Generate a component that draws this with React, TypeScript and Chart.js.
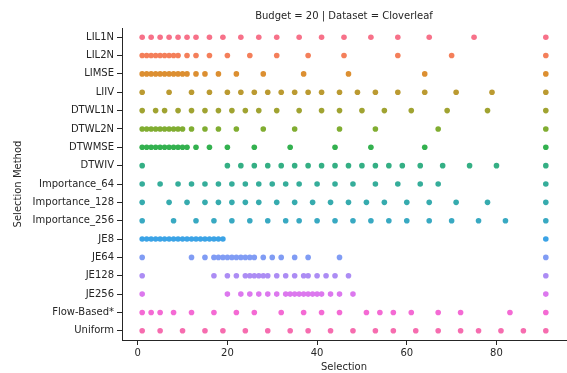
import React, { useEffect, useRef } from "react";
import { Chart, registerables } from "chart.js";

Chart.register(...registerables);

const panelTitle = "Budget = 20 | Dataset = Cloverleaf";
const xTicks = [0, 20, 40, 60, 80];

const methods = [
  "LIL1N", "LIL2N", "LIMSE", "LIIV", "DTWL1N", "DTWL2N", "DTWMSE", "DTWIV",
  "Importance_64", "Importance_128", "Importance_256", "JE8", "JE64", "JE128",
  "JE256", "Flow-Based*", "Uniform",
];

const methodColors = [
  "#f77189", "#f47f5a", "#dc8f31", "#bb9a31", "#a0a331", "#80ad31", "#33b14f",
  "#34af84", "#35ad9a", "#36abae", "#38a9c2", "#3ba3e6", "#809cf4", "#ac8cf4",
  "#dc78ee", "#f46ad4", "#f66caf",
];

const lil1n = [1, 3, 5, 7, 9, 11, 13, 16, 19, 23, 27, 31, 36, 41, 46, 52, 58, 65, 75, 91];
const lil2n = [1, 2, 3, 4, 5, 6, 7, 8, 9, 11, 13, 16, 20, 25, 31, 38, 46, 58, 70, 91];
const limse = [1, 2, 3, 4, 5, 6, 7, 8, 9, 10, 11, 13, 15, 18, 22, 28, 37, 47, 64, 91];
const liiv = [1, 7, 12, 16, 20, 23, 26, 29, 32, 35, 38, 41, 45, 49, 53, 58, 64, 71, 79, 91];
const dtwl1n = [1, 4, 6, 9, 12, 15, 18, 21, 24, 27, 31, 36, 41, 45, 50, 55, 61, 69, 78, 91];
const dtwl2n = [1, 2, 3, 4, 5, 6, 7, 8, 9, 10, 12, 15, 18, 22, 28, 35, 45, 53, 67, 91];
const dtwmse = [1, 2, 3, 4, 5, 6, 7, 8, 9, 10, 11, 13, 16, 20, 26, 34, 44, 52, 64, 91];
const dtwiv = [1, 20, 23, 26, 29, 32, 35, 38, 41, 44, 47, 50, 53, 56, 59, 63, 68, 74, 80, 91];
const importance64 = [1, 5, 9, 12, 15, 18, 21, 24, 27, 30, 33, 36, 40, 44, 48, 53, 58, 63, 67, 91];
const importance128 = [1, 7, 11, 15, 18, 21, 24, 27, 31, 35, 39, 43, 47, 51, 55, 60, 65, 71, 78, 91];
const importance256 = [1, 8, 13, 17, 21, 25, 29, 33, 36, 40, 44, 48, 52, 56, 60, 65, 70, 76, 82, 91];
const je8 = [1, 2, 3, 4, 5, 6, 7, 8, 9, 10, 11, 12, 13, 14, 15, 16, 17, 18, 19, 91];
const je64 = [1, 12, 15, 17, 18, 19, 20, 21, 22, 23, 24, 25, 26, 28, 30, 32, 35, 38, 45, 91];
const je128 = [1, 17, 20, 22, 24, 25, 26, 27, 28, 29, 31, 33, 35, 37, 38, 40, 42, 44, 47, 91];
const je256 = [1, 20, 23, 25, 27, 29, 31, 33, 34, 35, 36, 37, 38, 39, 40, 41, 43, 45, 48, 91];
const flowBased = [1, 3, 5, 8, 12, 17, 22, 26, 32, 37, 41, 45, 51, 54, 57, 61, 67, 72, 83, 91];
const uniform = [1, 5, 10, 15, 19, 24, 29, 34, 38, 43, 48, 53, 57, 62, 67, 72, 76, 81, 86, 91];

const selections = [
  lil1n, lil2n, limse, liiv, dtwl1n, dtwl2n, dtwmse, dtwiv, importance64,
  importance128, importance256, je8, je64, je128, je256, flowBased, uniform,
];

const INK = "#262626";
const FONT = "'DejaVu Sans', sans-serif";

const titlePlugin = {
  id: "panelTitle",
  afterDraw(chart: any) {
    const { ctx, chartArea } = chart;
    ctx.save();
    ctx.font = `10px ${FONT}`;
    ctx.fillStyle = INK;
    ctx.textAlign = "center";
    ctx.textBaseline = "middle";
    ctx.fillText(panelTitle, (chartArea.left + chartArea.right) / 2, 16);
    ctx.restore();
  },
};

export default function App() {
  const canvasRef = useRef<HTMLCanvasElement | null>(null);

  useEffect(() => {
    const canvas = canvasRef.current;
    if (!canvas) return;
    Chart.defaults.font.family = FONT;
    Chart.defaults.font.size = 10;
    Chart.defaults.color = INK;

    const datasets = methods.map((name, i) => ({
      label: name,
      data: selections[i].map((x) => ({ x, y: i })),
      backgroundColor: methodColors[i],
      borderWidth: 0,
      pointRadius: 2.8,
      pointHoverRadius: 2.8,
    }));

    const chart = new Chart(canvas, {
      type: "scatter",
      data: { datasets },
      plugins: [titlePlugin],
      options: {
        animation: false,
        responsive: false,
        devicePixelRatio: 1,
        layout: { autoPadding: false, padding: { top: 28, right: 1, left: 0, bottom: 0 } },
        plugins: {
          legend: { display: false },
          tooltip: { enabled: false },
          title: { display: false },
        },
        scales: {
          x: {
            type: "linear",
            min: -3.5,
            max: 95.5,
            afterBuildTicks: (s: any) => {
              s.ticks = xTicks.map((v) => ({ value: v }));
            },
            afterFit: (s: any) => {
              s.height = 33;
              s.paddingLeft = 0;
              s.paddingRight = 0;
            },
            grid: {
              drawOnChartArea: false,
              drawTicks: true,
              tickLength: 5,
              tickColor: INK,
              tickWidth: 1,
            },
            border: { display: true, color: INK, width: 1 },
            ticks: { color: INK, font: { size: 10 }, padding: 2, maxRotation: 0 },
            title: {
              display: true,
              text: "Selection",
              color: INK,
              font: { size: 10 },
              padding: { top: 0, bottom: 0 },
            },
          },
          y: {
            type: "linear",
            min: -0.5,
            max: 16.5,
            reverse: true,
            afterBuildTicks: (s: any) => {
              s.ticks = methods.map((_, i) => ({ value: i }));
            },
            afterFit: (s: any) => {
              s.width = 122;
              s.paddingTop = 0;
              s.paddingBottom = 0;
            },
            grid: {
              drawOnChartArea: false,
              drawTicks: true,
              tickLength: 5,
              tickColor: INK,
              tickWidth: 1,
            },
            border: { display: true, color: INK, width: 1 },
            ticks: {
              color: INK,
              font: { size: 10 },
              padding: 3,
              autoSkip: false,
              callback: (v: any) => methods[v] ?? "",
            },
            title: {
              display: true,
              text: "Selection Method",
              color: INK,
              font: { size: 10 },
              padding: { top: 12, bottom: 0 },
            },
          },
        },
      },
    });

    return () => chart.destroy();
  }, []);

  return (
    <div style={{ position: "absolute", left: 0, top: 0, width: 567, height: 373, background: "#fff" }}>
      <canvas ref={canvasRef} width={567} height={373} style={{ display: "block", width: 567, height: 373 }} />
    </div>
  );
}
